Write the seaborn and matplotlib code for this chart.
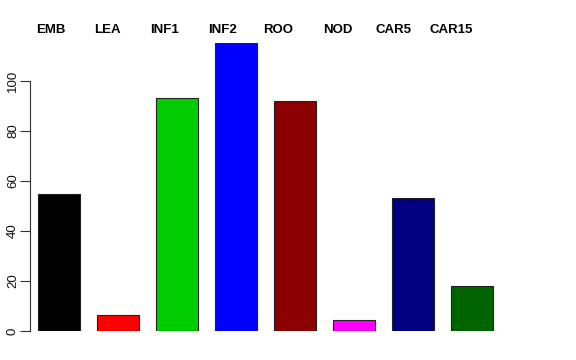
import matplotlib
matplotlib.use("Agg")
import matplotlib.pyplot as plt
import seaborn as sns
import pandas as pd

categories = ["EMB", "LEA", "INF1", "INF2", "ROO", "NOD", "CAR5", "CAR15"]
values = [54.8, 6.4, 93.2, 115.2, 92.0, 4.4, 53.2, 18.0]
colors = ["#000000", "#FF0000", "#00CD00", "#0000FF", "#8B0000", "#FF00FF", "#000080", "#006400"]
yticks = [0, 20, 40, 60, 80, 100]

sns.set_theme(style="white")
plt.rcParams["font.family"] = ["Liberation Sans", "DejaVu Sans"]

df = pd.DataFrame({"cat": categories, "val": values})

fig = plt.figure(figsize=(5.76, 3.6), dpi=100)
ax = fig.add_axes([30/576, (360-331)/360, (501.5-30)/576, 0.8])
sns.barplot(data=df, x="cat", y="val", hue="cat", palette=colors, legend=False,
            width=0.71, edgecolor="#222222", linewidth=0.8, saturation=1, ax=ax)
ax.set_xlim(-0.49, 7.5)
ax.set_ylim(0, 115.2)
ax.set_xlabel("")
ax.set_ylabel("")
ax.set_xticks([])
for s in ["top", "right", "bottom"]:
    ax.spines[s].set_visible(False)
ax.spines["left"].set_bounds(0, 100)
ax.spines["left"].set_color("#333333")
ax.spines["left"].set_linewidth(0.8)
ax.set_yticks(yticks)
ax.set_yticklabels([str(t) for t in yticks], rotation=90, va="center", fontsize=9.5, color="#111111")
ax.tick_params(axis="y", left=True, length=7, width=0.8, color="#333333", pad=1)

label_x = [36, 94, 150, 208, 263, 323, 375, 429]
for lx, c in zip(label_x, categories):
    fig.text(lx/576, 1 - 30/360, c, ha="left", va="center", fontsize=9.5, fontweight="bold", color="black")

fig.savefig("out.png", dpi=100)
